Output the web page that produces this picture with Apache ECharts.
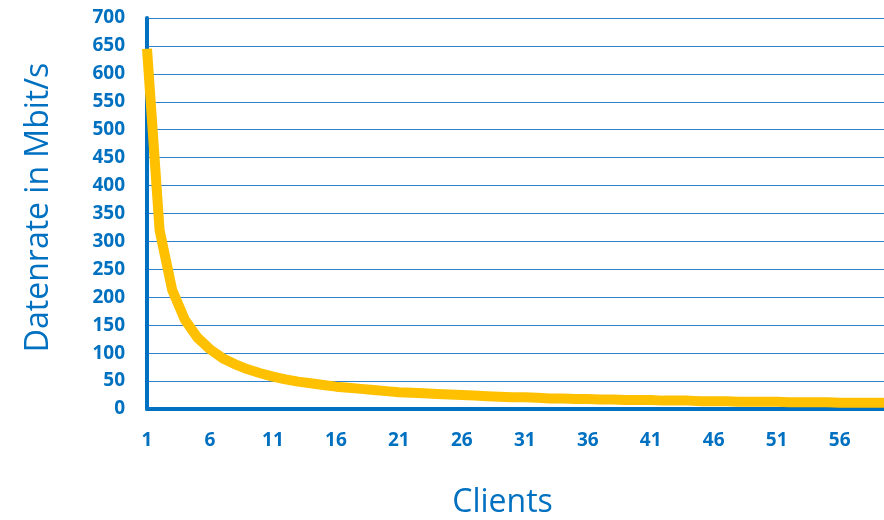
<!DOCTYPE html>
<html>
<head>
<meta charset="utf-8">
<script src="https://cdn.jsdelivr.net/npm/echarts@6/dist/echarts.min.js"></script>
<style>
  html, body { margin: 0; padding: 0; background: #fff; }
  #chart { width: 884px; height: 520px; }
</style>
</head>
<body>
<div id="chart"></div>
<script>
// Number of clients sharing the link
const clients = [];
for (let i = 1; i <= 60; i++) clients.push(String(i));

// Data rate per client in Mbit/s
const datenrate = [
  645, 320, 213, 160, 128, 107, 91, 80, 71, 64,
  58, 53, 49, 46, 43, 40, 38, 36, 34, 32,
  30, 29, 28, 27, 26, 25, 24, 23, 22, 21,
  21, 20, 19, 19, 18, 18, 17, 17, 16, 16,
  16, 15, 15, 15, 14, 14, 14, 13, 13, 13,
  13, 12, 12, 12, 12, 11, 11, 11, 11, 11
];

const blue = '#0070C0';
const font = '"Open Sans", "DejaVu Sans", sans-serif';

const chart = echarts.init(document.getElementById('chart'));
chart.setOption({
  animation: false,
  grid: {
    left: 147, right: -6, top: 18, bottom: 111,
    outerBoundsMode: 'none'
  },
  xAxis: {
    type: 'category',
    data: clients,
    boundaryGap: false,
    name: 'Clients',
    nameLocation: 'middle',
    nameGap: 78,
    nameTextStyle: {
      color: blue, fontSize: 32, fontFamily: font,
      padding: [0, 32, 0, 0]
    },
    axisLine: { lineStyle: { color: blue, width: 4 } },
    axisTick: { show: false },
    axisLabel: {
      interval: 4,
      color: blue, fontSize: 19, fontWeight: 'bold', fontFamily: font,
      margin: 22
    },
    splitLine: { show: false }
  },
  yAxis: {
    type: 'value',
    min: 0, max: 700, interval: 50,
    name: 'Datenrate in Mbit/s',
    nameLocation: 'middle',
    nameGap: 92,
    nameRotate: 90,
    nameTextStyle: {
      color: blue, fontSize: 32, fontFamily: font,
      padding: [0, 0, 0, 12]
    },
    axisLine: { show: true, lineStyle: { color: blue, width: 4 } },
    axisTick: { show: false },
    axisLabel: {
      color: blue, fontSize: 19, fontWeight: 'bold', fontFamily: font,
      margin: 22
    },
    splitLine: { show: true, lineStyle: { color: '#2E80C8', width: 1 } }
  },
  series: [{
    type: 'line',
    data: datenrate,
    symbol: 'none',
    smooth: false,
    lineStyle: { color: '#FFC000', width: 10 },
    z: 3
  }]
});
</script>
</body>
</html>
